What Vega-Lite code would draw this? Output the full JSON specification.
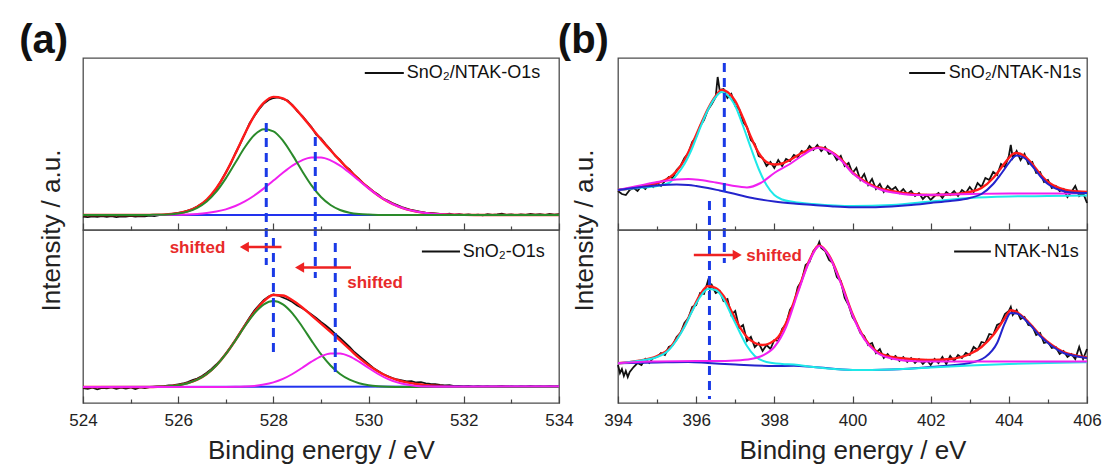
{
"$schema": "https://vega.github.io/schema/vega-lite/v6.json",
"background": "white",
"padding": {"left": 18, "top": 20, "right": 5, "bottom": 5},
"datasets": {
"at_k": [{"x":524.0,"y":13.5},{"x":524.1,"y":12.8},{"x":524.2,"y":13.6},{"x":524.3,"y":13.2},{"x":524.4,"y":14.0},{"x":524.5,"y":13.1},{"x":524.6,"y":13.8},{"x":524.7,"y":12.9},{"x":524.8,"y":13.7},{"x":524.9,"y":13.4},{"x":525.0,"y":14.2},{"x":525.1,"y":13.3},{"x":525.2,"y":13.9},{"x":525.3,"y":13.6},{"x":525.4,"y":14.4},{"x":525.5,"y":14.0},{"x":525.6,"y":14.8},{"x":525.7,"y":15.0},{"x":525.8,"y":15.6},{"x":525.9,"y":16.4},{"x":526.0,"y":17.0},{"x":526.1,"y":17.8},{"x":526.2,"y":19.4},{"x":526.3,"y":21.0},{"x":526.4,"y":23.5},{"x":526.5,"y":26.4},{"x":526.6,"y":30.0},{"x":526.7,"y":35.0},{"x":526.8,"y":41.0},{"x":526.9,"y":49.0},{"x":527.0,"y":57.5},{"x":527.1,"y":66.0},{"x":527.2,"y":76.5},{"x":527.3,"y":86.0},{"x":527.4,"y":96.0},{"x":527.5,"y":106.8},{"x":527.6,"y":114.0},{"x":527.7,"y":120.8},{"x":527.8,"y":126.5},{"x":527.9,"y":130.0},{"x":528.0,"y":132.0},{"x":528.1,"y":132.6},{"x":528.2,"y":131.0},{"x":528.3,"y":129.4},{"x":528.4,"y":125.0},{"x":528.5,"y":118.8},{"x":528.6,"y":114.5},{"x":528.7,"y":108.6},{"x":528.8,"y":103.0},{"x":528.9,"y":95.4},{"x":529.0,"y":91.5},{"x":529.1,"y":85.6},{"x":529.2,"y":80.5},{"x":529.3,"y":74.0},{"x":529.4,"y":70.0},{"x":529.5,"y":64.0},{"x":529.6,"y":60.5},{"x":529.7,"y":55.0},{"x":529.8,"y":51.0},{"x":529.9,"y":46.0},{"x":530.0,"y":42.5},{"x":530.1,"y":38.5},{"x":530.2,"y":35.5},{"x":530.3,"y":31.5},{"x":530.4,"y":29.5},{"x":530.5,"y":27.0},{"x":530.6,"y":25.0},{"x":530.7,"y":23.0},{"x":530.8,"y":21.5},{"x":530.9,"y":20.0},{"x":531.0,"y":19.0},{"x":531.1,"y":18.2},{"x":531.2,"y":17.4},{"x":531.3,"y":17.0},{"x":531.4,"y":16.6},{"x":531.5,"y":16.2},{"x":531.6,"y":15.6},{"x":531.7,"y":16.4},{"x":531.8,"y":15.2},{"x":531.9,"y":15.8},{"x":532.0,"y":15.0},{"x":532.1,"y":15.6},{"x":532.2,"y":14.8},{"x":532.3,"y":15.4},{"x":532.4,"y":14.6},{"x":532.5,"y":15.8},{"x":532.6,"y":15.0},{"x":532.7,"y":15.5},{"x":532.8,"y":16.3},{"x":532.9,"y":15.2},{"x":533.0,"y":15.7},{"x":533.1,"y":14.9},{"x":533.2,"y":15.6},{"x":533.3,"y":15.1},{"x":533.4,"y":16.1},{"x":533.5,"y":15.3},{"x":533.6,"y":15.8},{"x":533.7,"y":15.0},{"x":533.8,"y":16.2},{"x":533.9,"y":15.4},{"x":534.0,"y":15.8}],
"at_r": [{"x":524,"y":15},{"x":525.2,"y":15},{"x":525.4,"y":15.1},{"x":525.6,"y":15.3},{"x":525.8,"y":15.7},{"x":526.0,"y":16.8},{"x":526.2,"y":19.0},{"x":526.4,"y":23.2},{"x":526.6,"y":30.4},{"x":526.8,"y":41.7},{"x":527.0,"y":57.2},{"x":527.2,"y":76.2},{"x":527.4,"y":96.3},{"x":527.6,"y":114.4},{"x":527.8,"y":127.3},{"x":528.0,"y":133.1},{"x":528.2,"y":131.7},{"x":528.4,"y":124.5},{"x":528.6,"y":113.9},{"x":528.8,"y":102.2},{"x":529.0,"y":90.6},{"x":529.2,"y":79.7},{"x":529.4,"y":69.4},{"x":529.6,"y":59.6},{"x":529.8,"y":50.4},{"x":530.0,"y":42.0},{"x":530.2,"y":34.6},{"x":530.4,"y":28.6},{"x":530.6,"y":24.0},{"x":530.8,"y":20.6},{"x":531.0,"y":18.4},{"x":531.2,"y":16.9},{"x":531.4,"y":16.0},{"x":531.6,"y":15.5},{"x":531.8,"y":15.3},{"x":532.0,"y":15.1},{"x":532.4,"y":15},{"x":534,"y":15}],
"at_g": [{"x":524,"y":15},{"x":525.2,"y":15},{"x":525.4,"y":15.1},{"x":525.6,"y":15.2},{"x":525.8,"y":15.6},{"x":526.0,"y":16.5},{"x":526.2,"y":18.4},{"x":526.4,"y":22.2},{"x":526.6,"y":28.5},{"x":526.8,"y":38.3},{"x":527.0,"y":51.6},{"x":527.2,"y":67.2},{"x":527.4,"y":82.7},{"x":527.6,"y":94.9},{"x":527.8,"y":100.7},{"x":528.0,"y":98.7},{"x":528.2,"y":89.4},{"x":528.4,"y":75.1},{"x":528.6,"y":59.2},{"x":528.8,"y":44.6},{"x":529.0,"y":33.0},{"x":529.2,"y":25.0},{"x":529.4,"y":20.0},{"x":529.6,"y":17.3},{"x":529.8,"y":16.0},{"x":530.0,"y":15.4},{"x":530.2,"y":15.1},{"x":530.4,"y":15},{"x":534,"y":15}],
"at_m": [{"x":524,"y":15},{"x":525.6,"y":15},{"x":525.8,"y":15.1},{"x":526.0,"y":15.3},{"x":526.2,"y":15.5},{"x":526.4,"y":16.0},{"x":526.6,"y":16.9},{"x":526.8,"y":18.4},{"x":527.0,"y":20.6},{"x":527.2,"y":24.0},{"x":527.4,"y":28.6},{"x":527.6,"y":34.5},{"x":527.8,"y":41.6},{"x":528.0,"y":49.4},{"x":528.2,"y":57.3},{"x":528.4,"y":64.4},{"x":528.6,"y":69.7},{"x":528.8,"y":72.6},{"x":529.0,"y":72.6},{"x":529.2,"y":69.7},{"x":529.4,"y":64.4},{"x":529.6,"y":57.3},{"x":529.8,"y":49.4},{"x":530.0,"y":41.6},{"x":530.2,"y":34.5},{"x":530.4,"y":28.6},{"x":530.6,"y":24.0},{"x":530.8,"y":20.6},{"x":531.0,"y":18.4},{"x":531.2,"y":16.9},{"x":531.4,"y":16.0},{"x":531.6,"y":15.5},{"x":531.8,"y":15.3},{"x":532.0,"y":15.1},{"x":532.4,"y":15},{"x":534,"y":15}],
"ab_k": [{"x":524.0,"y":15.0},{"x":524.1,"y":14.2},{"x":524.2,"y":15.4},{"x":524.3,"y":13.6},{"x":524.4,"y":15.1},{"x":524.5,"y":14.6},{"x":524.6,"y":15.6},{"x":524.7,"y":14.3},{"x":524.8,"y":15.3},{"x":524.9,"y":14.5},{"x":525.0,"y":15.5},{"x":525.1,"y":13.9},{"x":525.2,"y":15.6},{"x":525.3,"y":15.0},{"x":525.4,"y":16.0},{"x":525.5,"y":16.3},{"x":525.6,"y":16.6},{"x":525.7,"y":16.8},{"x":525.8,"y":17.5},{"x":525.9,"y":17.8},{"x":526.0,"y":18.6},{"x":526.1,"y":19.5},{"x":526.2,"y":21.0},{"x":526.3,"y":22.8},{"x":526.4,"y":24.5},{"x":526.5,"y":27.0},{"x":526.6,"y":30.2},{"x":526.7,"y":34.0},{"x":526.8,"y":38.5},{"x":526.9,"y":43.5},{"x":527.0,"y":49.5},{"x":527.1,"y":56.0},{"x":527.2,"y":63.0},{"x":527.3,"y":70.5},{"x":527.4,"y":78.0},{"x":527.5,"y":85.5},{"x":527.6,"y":92.5},{"x":527.7,"y":98.0},{"x":527.8,"y":103.0},{"x":527.9,"y":106.5},{"x":528.0,"y":108.5},{"x":528.1,"y":107.5},{"x":528.2,"y":105.5},{"x":528.3,"y":103.5},{"x":528.4,"y":101.0},{"x":528.5,"y":97.5},{"x":528.6,"y":95.0},{"x":528.7,"y":92.0},{"x":528.8,"y":88.5},{"x":528.9,"y":85.0},{"x":529.0,"y":81.0},{"x":529.1,"y":77.5},{"x":529.2,"y":73.5},{"x":529.3,"y":69.0},{"x":529.4,"y":65.0},{"x":529.5,"y":60.5},{"x":529.6,"y":56.0},{"x":529.7,"y":51.0},{"x":529.8,"y":47.0},{"x":529.9,"y":43.0},{"x":530.0,"y":39.0},{"x":530.1,"y":35.0},{"x":530.2,"y":32.0},{"x":530.3,"y":29.0},{"x":530.4,"y":27.0},{"x":530.5,"y":25.0},{"x":530.6,"y":23.5},{"x":530.7,"y":22.5},{"x":530.8,"y":21.5},{"x":530.9,"y":21.8},{"x":531.0,"y":20.5},{"x":531.1,"y":20.8},{"x":531.2,"y":19.6},{"x":531.3,"y":19.0},{"x":531.4,"y":18.8},{"x":531.5,"y":18.0},{"x":531.6,"y":17.5},{"x":531.7,"y":17.9},{"x":531.8,"y":16.8},{"x":531.9,"y":17.2},{"x":532.0,"y":16.5},{"x":532.1,"y":17.0},{"x":532.2,"y":16.2},{"x":532.3,"y":16.9},{"x":532.4,"y":16.0},{"x":532.5,"y":16.6},{"x":532.6,"y":15.8},{"x":532.7,"y":16.4},{"x":532.8,"y":17.2},{"x":532.9,"y":16.0},{"x":533.0,"y":16.5},{"x":533.1,"y":15.9},{"x":533.2,"y":16.6},{"x":533.3,"y":16.1},{"x":533.4,"y":17.0},{"x":533.5,"y":16.2},{"x":533.6,"y":16.6},{"x":533.7,"y":15.9},{"x":533.8,"y":16.8},{"x":533.9,"y":16.0},{"x":534.0,"y":16.4}],
"ab_r": [{"x":524,"y":16},{"x":525.4,"y":16},{"x":525.6,"y":16.3},{"x":525.8,"y":16.8},{"x":526.0,"y":17.8},{"x":526.2,"y":19.8},{"x":526.4,"y":23.3},{"x":526.6,"y":29.0},{"x":526.8,"y":37.5},{"x":527.0,"y":48.9},{"x":527.2,"y":62.6},{"x":527.4,"y":77.3},{"x":527.6,"y":90.8},{"x":527.8,"y":101.8},{"x":528.0,"y":108.0},{"x":528.2,"y":107.5},{"x":528.4,"y":102.7},{"x":528.6,"y":95.8},{"x":528.8,"y":87.7},{"x":529.0,"y":79.4},{"x":529.2,"y":71.1},{"x":529.4,"y":62.6},{"x":529.6,"y":53.9},{"x":529.8,"y":45.1},{"x":530.0,"y":37.8},{"x":530.2,"y":31.5},{"x":530.4,"y":26.5},{"x":530.6,"y":23.0},{"x":530.8,"y":20.6},{"x":531.0,"y":19.0},{"x":531.2,"y":17.9},{"x":531.4,"y":17.2},{"x":531.6,"y":16.7},{"x":531.8,"y":16.4},{"x":532.2,"y":16.3},{"x":534,"y":16.6}],
"ab_g": [{"x":524,"y":16},{"x":525.4,"y":16},{"x":525.6,"y":16.3},{"x":525.8,"y":16.8},{"x":526.0,"y":17.8},{"x":526.2,"y":19.8},{"x":526.4,"y":23.3},{"x":526.6,"y":29.0},{"x":526.8,"y":37.5},{"x":527.0,"y":48.8},{"x":527.2,"y":62.4},{"x":527.4,"y":76.8},{"x":527.6,"y":89.7},{"x":527.8,"y":98.7},{"x":528.0,"y":102},{"x":528.2,"y":98.7},{"x":528.4,"y":89.7},{"x":528.6,"y":76.8},{"x":528.8,"y":62.4},{"x":529.0,"y":48.8},{"x":529.2,"y":37.5},{"x":529.4,"y":29.0},{"x":529.6,"y":23.3},{"x":529.8,"y":19.8},{"x":530.0,"y":17.8},{"x":530.2,"y":16.8},{"x":530.4,"y":16.3},{"x":530.6,"y":16.1},{"x":530.8,"y":16},{"x":534,"y":16}],
"ab_m": [{"x":524,"y":16},{"x":527.0,"y":16.1},{"x":527.2,"y":16.2},{"x":527.4,"y":16.5},{"x":527.6,"y":17.1},{"x":527.8,"y":18.4},{"x":528.0,"y":20.6},{"x":528.2,"y":24.1},{"x":528.4,"y":29.0},{"x":528.6,"y":35.0},{"x":528.8,"y":41.3},{"x":529.0,"y":46.6},{"x":529.2,"y":49.6},{"x":529.4,"y":49.6},{"x":529.6,"y":46.6},{"x":529.8,"y":41.3},{"x":530.0,"y":35.0},{"x":530.2,"y":29.0},{"x":530.4,"y":24.1},{"x":530.6,"y":20.6},{"x":530.8,"y":18.4},{"x":531.0,"y":17.1},{"x":531.2,"y":16.5},{"x":531.6,"y":16.3},{"x":534,"y":16.6}],
"bt_k": [{"x":394.0,"y":39},{"x":394.1,"y":36},{"x":394.2,"y":35},{"x":394.3,"y":40},{"x":394.4,"y":42},{"x":394.5,"y":39},{"x":394.6,"y":44},{"x":394.7,"y":41},{"x":394.8,"y":46},{"x":394.9,"y":43},{"x":395.0,"y":47},{"x":395.1,"y":44},{"x":395.2,"y":49},{"x":395.3,"y":53},{"x":395.4,"y":52},{"x":395.5,"y":60},{"x":395.6,"y":64},{"x":395.7,"y":72},{"x":395.8,"y":77},{"x":395.9,"y":88},{"x":396.0,"y":93},{"x":396.1,"y":104},{"x":396.2,"y":110},{"x":396.3,"y":120},{"x":396.4,"y":126},{"x":396.5,"y":133},{"x":396.55,"y":153},{"x":396.6,"y":140},{"x":396.7,"y":141},{"x":396.8,"y":132},{"x":396.9,"y":136},{"x":397.0,"y":124},{"x":397.1,"y":121},{"x":397.2,"y":108},{"x":397.3,"y":103},{"x":397.4,"y":90},{"x":397.5,"y":86},{"x":397.6,"y":74},{"x":397.7,"y":72},{"x":397.8,"y":64},{"x":397.9,"y":68},{"x":398.0,"y":62},{"x":398.1,"y":70},{"x":398.2,"y":64},{"x":398.3,"y":71},{"x":398.4,"y":69},{"x":398.5,"y":75},{"x":398.6,"y":73},{"x":398.7,"y":79},{"x":398.8,"y":77},{"x":398.9,"y":84},{"x":399.0,"y":80},{"x":399.1,"y":85},{"x":399.2,"y":79},{"x":399.3,"y":83},{"x":399.4,"y":76},{"x":399.5,"y":77},{"x":399.6,"y":70},{"x":399.7,"y":74},{"x":399.8,"y":64},{"x":399.9,"y":67},{"x":400.0,"y":57},{"x":400.1,"y":62},{"x":400.2,"y":50},{"x":400.3,"y":56},{"x":400.4,"y":45},{"x":400.5,"y":51},{"x":400.6,"y":41},{"x":400.7,"y":46},{"x":400.8,"y":38},{"x":400.9,"y":44},{"x":401.0,"y":40},{"x":401.1,"y":43},{"x":401.2,"y":37},{"x":401.3,"y":41},{"x":401.4,"y":36},{"x":401.5,"y":39},{"x":401.6,"y":34},{"x":401.7,"y":37},{"x":401.8,"y":31},{"x":401.9,"y":35},{"x":402.0,"y":30},{"x":402.1,"y":34},{"x":402.2,"y":37},{"x":402.3,"y":32},{"x":402.4,"y":38},{"x":402.5,"y":35},{"x":402.6,"y":39},{"x":402.7,"y":34},{"x":402.8,"y":40},{"x":402.9,"y":37},{"x":403.0,"y":43},{"x":403.1,"y":38},{"x":403.2,"y":47},{"x":403.3,"y":43},{"x":403.4,"y":52},{"x":403.5,"y":50},{"x":403.6,"y":58},{"x":403.7,"y":55},{"x":403.8,"y":66},{"x":403.9,"y":63},{"x":404.0,"y":74},{"x":404.05,"y":85},{"x":404.1,"y":72},{"x":404.2,"y":79},{"x":404.3,"y":70},{"x":404.4,"y":76},{"x":404.5,"y":66},{"x":404.6,"y":68},{"x":404.7,"y":57},{"x":404.8,"y":58},{"x":404.9,"y":48},{"x":405.0,"y":50},{"x":405.1,"y":42},{"x":405.2,"y":44},{"x":405.3,"y":39},{"x":405.4,"y":41},{"x":405.5,"y":33},{"x":405.6,"y":38},{"x":405.7,"y":44},{"x":405.8,"y":34},{"x":405.9,"y":37},{"x":406.0,"y":27}],
"bt_r": [{"x":394,"y":40},{"x":394.3,"y":41.5},{"x":394.6,"y":43.5},{"x":395,"y":47},{"x":395.3,"y":52},{"x":395.5,"y":59},{"x":395.7,"y":70},{"x":395.9,"y":86},{"x":396.1,"y":104},{"x":396.3,"y":121},{"x":396.5,"y":134},{"x":396.65,"y":140},{"x":396.8,"y":138},{"x":397,"y":129},{"x":397.2,"y":112},{"x":397.4,"y":93},{"x":397.6,"y":77},{"x":397.8,"y":68},{"x":398,"y":65.5},{"x":398.2,"y":66.5},{"x":398.4,"y":70},{"x":398.7,"y":77},{"x":399,"y":81.5},{"x":399.15,"y":82.5},{"x":399.4,"y":79.5},{"x":399.7,"y":71},{"x":400,"y":57.5},{"x":400.3,"y":49},{"x":400.6,"y":43},{"x":401,"y":39},{"x":401.5,"y":36},{"x":402,"y":35},{"x":402.5,"y":35.5},{"x":403,"y":38},{"x":403.3,"y":42},{"x":403.6,"y":52},{"x":403.8,"y":62},{"x":404,"y":72},{"x":404.1,"y":76},{"x":404.2,"y":77},{"x":404.4,"y":74},{"x":404.6,"y":66},{"x":404.8,"y":56},{"x":405,"y":48},{"x":405.3,"y":42},{"x":405.6,"y":39},{"x":406,"y":38}],
"bt_c": [{"x":394,"y":40},{"x":394.5,"y":42},{"x":395,"y":44},{"x":395.3,"y":47},{"x":395.5,"y":55},{"x":395.7,"y":66},{"x":395.9,"y":82},{"x":396.1,"y":102},{"x":396.3,"y":120},{"x":396.5,"y":133},{"x":396.65,"y":138},{"x":396.8,"y":135},{"x":397,"y":124},{"x":397.2,"y":104},{"x":397.4,"y":82},{"x":397.6,"y":61},{"x":397.8,"y":45},{"x":398,"y":35},{"x":398.2,"y":30.5},{"x":398.5,"y":28},{"x":399,"y":26},{"x":400,"y":24},{"x":401,"y":25},{"x":402,"y":28.5},{"x":403,"y":32},{"x":404,"y":33.5},{"x":405,"y":34},{"x":406,"y":34.5}],
"bt_m": [{"x":394,"y":40},{"x":394.5,"y":44},{"x":395,"y":48},{"x":395.5,"y":50.5},{"x":395.8,"y":51},{"x":396.1,"y":50},{"x":396.5,"y":47.5},{"x":396.9,"y":44.5},{"x":397.3,"y":42.6},{"x":397.65,"y":47},{"x":398,"y":57},{"x":398.4,"y":66},{"x":398.7,"y":74},{"x":399.1,"y":82},{"x":399.4,"y":79},{"x":399.7,"y":70},{"x":400,"y":57},{"x":400.3,"y":48},{"x":400.75,"y":40},{"x":401.2,"y":36.5},{"x":401.66,"y":35},{"x":402.5,"y":35.5},{"x":403,"y":36},{"x":404,"y":36.5},{"x":405,"y":36.5},{"x":406,"y":37}],
"bt_b": [{"x":394,"y":40},{"x":394.5,"y":42.5},{"x":395,"y":44.5},{"x":395.5,"y":45.5},{"x":395.8,"y":45},{"x":396,"y":44},{"x":396.3,"y":42},{"x":396.6,"y":39.5},{"x":397,"y":36},{"x":397.5,"y":31.5},{"x":398,"y":28.5},{"x":398.5,"y":26.5},{"x":399,"y":25},{"x":399.5,"y":23.5},{"x":400,"y":22.7},{"x":400.5,"y":22.8},{"x":401,"y":23.6},{"x":401.5,"y":25},{"x":402,"y":27},{"x":402.5,"y":29},{"x":403,"y":32},{"x":403.3,"y":36},{"x":403.6,"y":46},{"x":403.8,"y":56},{"x":404,"y":67},{"x":404.1,"y":72},{"x":404.2,"y":74.5},{"x":404.4,"y":72},{"x":404.6,"y":64},{"x":404.8,"y":54},{"x":405,"y":46},{"x":405.3,"y":40},{"x":405.6,"y":37.5},{"x":406,"y":37}],
"bb_k": [{"x":394.0,"y":38},{"x":394.05,"y":30},{"x":394.1,"y":34},{"x":394.15,"y":27},{"x":394.2,"y":32},{"x":394.25,"y":26},{"x":394.3,"y":31},{"x":394.4,"y":36},{"x":394.5,"y":40},{"x":394.6,"y":38},{"x":394.7,"y":44},{"x":394.8,"y":40},{"x":394.9,"y":45},{"x":395.0,"y":46},{"x":395.1,"y":50},{"x":395.2,"y":48},{"x":395.3,"y":56},{"x":395.4,"y":58},{"x":395.5,"y":66},{"x":395.6,"y":70},{"x":395.7,"y":80},{"x":395.8,"y":85},{"x":395.9,"y":96},{"x":396.0,"y":98},{"x":396.1,"y":110},{"x":396.2,"y":109},{"x":396.3,"y":122},{"x":396.35,"y":113},{"x":396.4,"y":118},{"x":396.5,"y":110},{"x":396.6,"y":112},{"x":396.7,"y":102},{"x":396.8,"y":104},{"x":396.9,"y":88},{"x":397.0,"y":92},{"x":397.1,"y":75},{"x":397.2,"y":78},{"x":397.3,"y":62},{"x":397.4,"y":66},{"x":397.5,"y":56},{"x":397.6,"y":60},{"x":397.7,"y":52},{"x":397.8,"y":58},{"x":397.9,"y":54},{"x":398.0,"y":63},{"x":398.1,"y":62},{"x":398.2,"y":74},{"x":398.3,"y":79},{"x":398.4,"y":93},{"x":398.5,"y":99},{"x":398.6,"y":116},{"x":398.7,"y":122},{"x":398.8,"y":138},{"x":398.9,"y":141},{"x":399.0,"y":152},{"x":399.1,"y":156},{"x":399.15,"y":161},{"x":399.2,"y":155},{"x":399.3,"y":152},{"x":399.4,"y":143},{"x":399.5,"y":140},{"x":399.6,"y":126},{"x":399.7,"y":122},{"x":399.8,"y":105},{"x":399.9,"y":98},{"x":400.0,"y":86},{"x":400.1,"y":80},{"x":400.2,"y":70},{"x":400.3,"y":67},{"x":400.4,"y":58},{"x":400.5,"y":60},{"x":400.6,"y":50},{"x":400.7,"y":54},{"x":400.8,"y":45},{"x":400.9,"y":49},{"x":401.0,"y":44},{"x":401.1,"y":47},{"x":401.2,"y":42},{"x":401.3,"y":46},{"x":401.4,"y":41},{"x":401.5,"y":45},{"x":401.6,"y":40},{"x":401.7,"y":44},{"x":401.8,"y":39},{"x":401.9,"y":43},{"x":402.0,"y":38},{"x":402.1,"y":44},{"x":402.2,"y":40},{"x":402.3,"y":46},{"x":402.4,"y":39},{"x":402.5,"y":47},{"x":402.6,"y":42},{"x":402.7,"y":48},{"x":402.8,"y":45},{"x":402.9,"y":50},{"x":403.0,"y":48},{"x":403.1,"y":56},{"x":403.2,"y":53},{"x":403.3,"y":61},{"x":403.4,"y":60},{"x":403.5,"y":69},{"x":403.6,"y":68},{"x":403.7,"y":78},{"x":403.8,"y":80},{"x":403.9,"y":89},{"x":404.0,"y":92},{"x":404.05,"y":96},{"x":404.1,"y":88},{"x":404.2,"y":93},{"x":404.3,"y":84},{"x":404.4,"y":86},{"x":404.5,"y":78},{"x":404.6,"y":77},{"x":404.7,"y":68},{"x":404.8,"y":70},{"x":404.9,"y":60},{"x":405.0,"y":61},{"x":405.1,"y":55},{"x":405.2,"y":56},{"x":405.3,"y":49},{"x":405.4,"y":52},{"x":405.5,"y":46},{"x":405.6,"y":49},{"x":405.7,"y":44},{"x":405.8,"y":56},{"x":405.9,"y":44},{"x":406.0,"y":54}],
"bb_r": [{"x":394,"y":39.7},{"x":394.5,"y":42},{"x":395,"y":47},{"x":395.3,"y":54},{"x":395.5,"y":64},{"x":395.7,"y":77},{"x":395.9,"y":93},{"x":396.1,"y":108},{"x":396.3,"y":117},{"x":396.5,"y":115},{"x":396.7,"y":107},{"x":396.9,"y":92},{"x":397.1,"y":77},{"x":397.3,"y":66},{"x":397.5,"y":60},{"x":397.7,"y":58},{"x":397.9,"y":60},{"x":398.1,"y":66},{"x":398.3,"y":80},{"x":398.6,"y":112},{"x":398.9,"y":143},{"x":399.15,"y":157.5},{"x":399.4,"y":147.5},{"x":399.7,"y":121},{"x":400,"y":89},{"x":400.3,"y":65},{"x":400.6,"y":52},{"x":401,"y":46},{"x":401.5,"y":44},{"x":402,"y":43},{"x":402.5,"y":44},{"x":403,"y":49},{"x":403.3,"y":56},{"x":403.6,"y":68},{"x":403.9,"y":85},{"x":404.05,"y":92.7},{"x":404.2,"y":91},{"x":404.5,"y":81},{"x":404.8,"y":68},{"x":405.1,"y":58},{"x":405.4,"y":51},{"x":405.7,"y":47.5},{"x":406,"y":45.5}],
"bb_c": [{"x":394,"y":39.7},{"x":394.5,"y":42},{"x":395,"y":46},{"x":395.3,"y":53},{"x":395.5,"y":63},{"x":395.7,"y":76},{"x":395.9,"y":92},{"x":396.1,"y":106},{"x":396.3,"y":114},{"x":396.5,"y":113},{"x":396.7,"y":104},{"x":396.9,"y":88},{"x":397.1,"y":72},{"x":397.3,"y":57},{"x":397.5,"y":47},{"x":397.8,"y":41},{"x":398.2,"y":39},{"x":398.5,"y":38.5},{"x":399,"y":36},{"x":400,"y":33},{"x":401,"y":33.5},{"x":402,"y":35.5},{"x":403,"y":37.5},{"x":404,"y":39},{"x":405,"y":40},{"x":406,"y":40.7}],
"bb_m": [{"x":394,"y":39.7},{"x":394.5,"y":41},{"x":395,"y":41.5},{"x":396,"y":42},{"x":396.5,"y":42},{"x":397,"y":42.5},{"x":397.4,"y":44},{"x":397.7,"y":47.5},{"x":398,"y":56},{"x":398.3,"y":76},{"x":398.6,"y":110},{"x":398.9,"y":142},{"x":399.15,"y":157},{"x":399.4,"y":147},{"x":399.7,"y":120},{"x":400,"y":88},{"x":400.3,"y":64},{"x":400.6,"y":51},{"x":401,"y":44.5},{"x":401.5,"y":42},{"x":402,"y":41.5},{"x":406,"y":41.5}],
"bb_b": [{"x":394,"y":39.7},{"x":395,"y":40.5},{"x":395.8,"y":41},{"x":396.3,"y":40},{"x":397,"y":38.5},{"x":398,"y":37},{"x":398.5,"y":37.2},{"x":399,"y":36},{"x":400,"y":33},{"x":401,"y":33.5},{"x":402,"y":36},{"x":403,"y":40},{"x":403.4,"y":46},{"x":403.7,"y":60},{"x":403.9,"y":80},{"x":404.05,"y":90},{"x":404.2,"y":89.5},{"x":404.5,"y":80},{"x":404.8,"y":67},{"x":405.1,"y":57},{"x":405.4,"y":50},{"x":405.7,"y":47},{"x":406,"y":45}]
},
"columns": 2,
"spacing": {"row": 0, "column": 59},
"bounds": "flush",
"concat": [
{
"width": 476, "height": 172,
"layer": [
{
"encoding": {
"x": {"field": "x", "type": "quantitative", "scale": {"domain": [524, 534], "nice": false, "zero": false},
 "axis": {"values": [524, 526, 528, 530, 532, 534], "labels": false, "title": null, "domain": false, "grid": false, "tickSize": -7, "tickColor": "#444", "tickWidth": 1.2}},
"y": {"field": "y", "type": "quantitative", "scale": {"domain": [0, 172], "nice": false, "zero": false}, "axis": null}
},
"layer": [
{"data": {"name": "at_k"}, "mark": {"type": "line", "color": "#111111", "strokeWidth": 1.8}},
{"data": {"name": "at_r"}, "mark": {"type": "line", "color": "#ff1a1a", "strokeWidth": 2.4, "interpolate": "monotone"}},
{"data": {"values": [{"x": 524, "y": 15}, {"x": 534, "y": 15}]}, "mark": {"type": "line", "color": "#2233ee", "strokeWidth": 2}},
{"data": {"name": "at_m"}, "mark": {"type": "line", "color": "#f020f0", "strokeWidth": 2, "interpolate": "monotone"}},
{"data": {"name": "at_g"}, "mark": {"type": "line", "color": "#2a8a2a", "strokeWidth": 2, "interpolate": "monotone"}},
{"data": {"values": [{"x": 527.85, "y": 107, "y2": -35}, {"x": 528.88, "y": 93, "y2": -48}]}, "mark": {"type": "rule", "color": "#1a3ae6", "strokeWidth": 3, "strokeDash": [9, 6]}, "encoding": {"y2": {"field": "y2"}}},
{"data": {"values": [{"x": 529.92, "x2": 530.74, "y": 157}]}, "mark": {"type": "rule", "color": "#111111", "strokeWidth": 2.2}, "encoding": {"x2": {"field": "x2"}}},
{"data": {"values": [{"x": 530.8, "y": 157, "t": "SnO₂/NTAK-O1s"}]}, "mark": {"type": "text", "align": "left", "baseline": "middle", "fontSize": 18, "color": "#111111"}, "encoding": {"text": {"field": "t", "type": "nominal"}}},
{"data": {"values": [{"x": 522.66, "y": 189, "t": "(a)"}]}, "mark": {"type": "text", "align": "left", "baseline": "middle", "fontSize": 40, "fontWeight": "bold", "color": "#111111"}, "encoding": {"text": {"field": "t", "type": "nominal"}}}
]
},
{"data": {"values": [{"x": 524}, {"x": 534}]}, "mark": {"type": "point", "opacity": 0},
 "encoding": {"x": {"field": "x", "type": "quantitative", "scale": {"domain": [524, 534], "nice": false, "zero": false},
 "axis": {"orient": "bottom", "values": [525, 527, 529, 531, 533], "labels": false, "title": null, "domain": false, "grid": false, "tickSize": -4, "tickColor": "#444", "tickWidth": 1.2}}}}
],
"resolve": {"scale": {"x": "independent"}, "axis": {"x": "independent"}}
},
{
"width": 469, "height": 172,
"layer": [
{
"encoding": {
"x": {"field": "x", "type": "quantitative", "scale": {"domain": [394, 406], "nice": false, "zero": false},
 "axis": {"values": [394, 396, 398, 400, 402, 404, 406], "labels": false, "title": null, "domain": false, "grid": false, "tickSize": -7, "tickColor": "#444", "tickWidth": 1.2}},
"y": {"field": "y", "type": "quantitative", "scale": {"domain": [0, 172], "nice": false, "zero": false}, "axis": null}
},
"layer": [
{"data": {"name": "bt_k"}, "mark": {"type": "line", "color": "#111111", "strokeWidth": 1.8}},
{"data": {"name": "bt_r"}, "mark": {"type": "line", "color": "#ff1a1a", "strokeWidth": 2.4, "interpolate": "monotone"}},
{"data": {"name": "bt_c"}, "mark": {"type": "line", "color": "#1ee8e8", "strokeWidth": 2, "interpolate": "monotone"}},
{"data": {"name": "bt_m"}, "mark": {"type": "line", "color": "#f020f0", "strokeWidth": 2, "interpolate": "monotone"}},
{"data": {"name": "bt_b"}, "mark": {"type": "line", "color": "#2424cc", "strokeWidth": 2, "interpolate": "monotone"}},
{"data": {"values": [{"x": 396.72, "y": 167, "y2": -33}]}, "mark": {"type": "rule", "color": "#1a3ae6", "strokeWidth": 3, "strokeDash": [9, 6]}, "encoding": {"y2": {"field": "y2"}}},
{"data": {"values": [{"x": 401.45, "x2": 402.37, "y": 157}]}, "mark": {"type": "rule", "color": "#111111", "strokeWidth": 2.2}, "encoding": {"x2": {"field": "x2"}}},
{"data": {"values": [{"x": 402.46, "y": 157, "t": "SnO₂/NTAK-N1s"}]}, "mark": {"type": "text", "align": "left", "baseline": "middle", "fontSize": 18, "color": "#111111"}, "encoding": {"text": {"field": "t", "type": "nominal"}}},
{"data": {"values": [{"x": 392.46, "y": 189, "t": "(b)"}]}, "mark": {"type": "text", "align": "left", "baseline": "middle", "fontSize": 40, "fontWeight": "bold", "color": "#111111"}, "encoding": {"text": {"field": "t", "type": "nominal"}}}
]
},
{"data": {"values": [{"x": 394}, {"x": 406}]}, "mark": {"type": "point", "opacity": 0},
 "encoding": {"x": {"field": "x", "type": "quantitative", "scale": {"domain": [394, 406], "nice": false, "zero": false},
 "axis": {"orient": "bottom", "values": [395, 397, 399, 401, 403, 405], "labels": false, "title": null, "domain": false, "grid": false, "tickSize": -4, "tickColor": "#444", "tickWidth": 1.2}}}}
],
"resolve": {"scale": {"x": "independent"}, "axis": {"x": "independent"}}
},
{
"width": 476, "height": 173,
"layer": [
{
"encoding": {
"x": {"field": "x", "type": "quantitative", "scale": {"domain": [524, 534], "nice": false, "zero": false},
 "axis": {"values": [524, 526, 528, 530, 532, 534], "labels": true, "labelFlush": false, "labelOverlap": false, "labelFontSize": 17, "labelColor": "#222", "labelPadding": 16, "title": "Binding energy / eV", "titleFontSize": 26, "titleFontWeight": "normal", "titleColor": "#222", "titlePadding": 9, "domain": false, "grid": false, "tickSize": -7, "tickColor": "#444", "tickWidth": 1.2}},
"y": {"field": "y", "type": "quantitative", "scale": {"domain": [0, 173], "nice": false, "zero": false},
 "axis": {"title": "Intensity / a.u.", "labels": false, "ticks": false, "domain": false, "grid": false, "titleX": -32, "titleY": 0, "titleAngle": -90, "titleAlign": "center", "titleBaseline": "middle", "titleFontSize": 26, "titleFontWeight": "normal", "titleColor": "#222"}}
},
"layer": [
{"data": {"name": "ab_k"}, "mark": {"type": "line", "color": "#111111", "strokeWidth": 1.8}},
{"data": {"name": "ab_r"}, "mark": {"type": "line", "color": "#ff1a1a", "strokeWidth": 2.4, "interpolate": "monotone"}},
{"data": {"values": [{"x": 524, "y": 16}, {"x": 534, "y": 16.6}]}, "mark": {"type": "line", "color": "#2233ee", "strokeWidth": 2}},
{"data": {"name": "ab_g"}, "mark": {"type": "line", "color": "#2a8a2a", "strokeWidth": 2, "interpolate": "monotone"}},
{"data": {"name": "ab_m"}, "mark": {"type": "line", "color": "#f020f0", "strokeWidth": 2, "interpolate": "monotone"}},
{"data": {"values": [{"x": 528.0, "y": 165, "y2": 50}, {"x": 529.3, "y": 160, "y2": 25}]}, "mark": {"type": "rule", "color": "#1a3ae6", "strokeWidth": 3, "strokeDash": [9, 6]}, "encoding": {"y2": {"field": "y2"}}},
{"data": {"values": [{"x": 527.39, "x2": 528.17, "y": 156}, {"x": 528.55, "x2": 529.63, "y": 135.6}]}, "mark": {"type": "rule", "color": "#ee2222", "strokeWidth": 2.5}, "encoding": {"x2": {"field": "x2"}}},
{"data": {"values": [{"x": 527.39, "y": 156}, {"x": 528.55, "y": 135.6}]}, "mark": {"type": "point", "shape": "triangle-left", "filled": true, "size": 110, "color": "#ee2222", "opacity": 1}},
{"data": {"values": [{"x": 525.82, "y": 155, "t": "shifted"}, {"x": 529.55, "y": 120, "t": "shifted"}]}, "mark": {"type": "text", "align": "left", "baseline": "middle", "fontSize": 17, "fontWeight": "bold", "color": "#e82a2a"}, "encoding": {"text": {"field": "t", "type": "nominal"}}},
{"data": {"values": [{"x": 531.12, "x2": 531.92, "y": 151.5}]}, "mark": {"type": "rule", "color": "#111111", "strokeWidth": 2.2}, "encoding": {"x2": {"field": "x2"}}},
{"data": {"values": [{"x": 531.98, "y": 151.5, "t": "SnO₂-O1s"}]}, "mark": {"type": "text", "align": "left", "baseline": "middle", "fontSize": 18, "color": "#111111"}, "encoding": {"text": {"field": "t", "type": "nominal"}}}
]
},
{"data": {"values": [{"x": 524}, {"x": 534}]}, "mark": {"type": "point", "opacity": 0},
 "encoding": {"x": {"field": "x", "type": "quantitative", "scale": {"domain": [524, 534], "nice": false, "zero": false},
 "axis": {"orient": "bottom", "values": [525, 527, 529, 531, 533], "labels": false, "title": null, "domain": false, "grid": false, "tickSize": -4, "tickColor": "#444", "tickWidth": 1.2}}}}
],
"resolve": {"scale": {"x": "independent"}, "axis": {"x": "independent"}}
},
{
"width": 469, "height": 173,
"layer": [
{
"encoding": {
"x": {"field": "x", "type": "quantitative", "scale": {"domain": [394, 406], "nice": false, "zero": false},
 "axis": {"values": [394, 396, 398, 400, 402, 404, 406], "labels": true, "labelFlush": false, "labelOverlap": false, "labelFontSize": 17, "labelColor": "#222", "labelPadding": 16, "title": "Binding energy / eV", "titleFontSize": 26, "titleFontWeight": "normal", "titleColor": "#222", "titlePadding": 9, "domain": false, "grid": false, "tickSize": -7, "tickColor": "#444", "tickWidth": 1.2}},
"y": {"field": "y", "type": "quantitative", "scale": {"domain": [0, 173], "nice": false, "zero": false},
 "axis": {"title": "Intensity / a.u.", "labels": false, "ticks": false, "domain": false, "grid": false, "titleX": -34, "titleY": 0, "titleAngle": -90, "titleAlign": "center", "titleBaseline": "middle", "titleFontSize": 26, "titleFontWeight": "normal", "titleColor": "#222"}}
},
"layer": [
{"data": {"name": "bb_k"}, "mark": {"type": "line", "color": "#111111", "strokeWidth": 1.8}},
{"data": {"name": "bb_r"}, "mark": {"type": "line", "color": "#ff1a1a", "strokeWidth": 2.4, "interpolate": "monotone"}},
{"data": {"name": "bb_b"}, "mark": {"type": "line", "color": "#2424cc", "strokeWidth": 2, "interpolate": "monotone"}},
{"data": {"name": "bb_c"}, "mark": {"type": "line", "color": "#1ee8e8", "strokeWidth": 2, "interpolate": "monotone"}},
{"data": {"name": "bb_m"}, "mark": {"type": "line", "color": "#f020f0", "strokeWidth": 2, "interpolate": "monotone"}},
{"data": {"values": [{"x": 396.34, "y": 202, "y2": 4}]}, "mark": {"type": "rule", "color": "#1a3ae6", "strokeWidth": 3, "strokeDash": [9, 6]}, "encoding": {"y2": {"field": "y2"}}},
{"data": {"values": [{"x": 395.94, "x2": 397.05, "y": 148}]}, "mark": {"type": "rule", "color": "#ee2222", "strokeWidth": 2.5}, "encoding": {"x2": {"field": "x2"}}},
{"data": {"values": [{"x": 397.05, "y": 148}]}, "mark": {"type": "point", "shape": "triangle-right", "filled": true, "size": 110, "color": "#ee2222", "opacity": 1}},
{"data": {"values": [{"x": 397.28, "y": 147, "t": "shifted"}]}, "mark": {"type": "text", "align": "left", "baseline": "middle", "fontSize": 17, "fontWeight": "bold", "color": "#e82a2a"}, "encoding": {"text": {"field": "t", "type": "nominal"}}},
{"data": {"values": [{"x": 402.6, "x2": 403.54, "y": 151.5}]}, "mark": {"type": "rule", "color": "#111111", "strokeWidth": 2.2}, "encoding": {"x2": {"field": "x2"}}},
{"data": {"values": [{"x": 403.62, "y": 151.5, "t": "NTAK-N1s"}]}, "mark": {"type": "text", "align": "left", "baseline": "middle", "fontSize": 18, "color": "#111111"}, "encoding": {"text": {"field": "t", "type": "nominal"}}}
]
},
{"data": {"values": [{"x": 394}, {"x": 406}]}, "mark": {"type": "point", "opacity": 0},
 "encoding": {"x": {"field": "x", "type": "quantitative", "scale": {"domain": [394, 406], "nice": false, "zero": false},
 "axis": {"orient": "bottom", "values": [395, 397, 399, 401, 403, 405], "labels": false, "title": null, "domain": false, "grid": false, "tickSize": -4, "tickColor": "#444", "tickWidth": 1.2}}}}
],
"resolve": {"scale": {"x": "independent"}, "axis": {"x": "independent"}}
}
],
"config": {
"view": {"stroke": "#4d4d4d", "strokeWidth": 1.3},
"font": "Liberation Sans",
"axis": {"labelFont": "Liberation Sans", "titleFont": "Liberation Sans"},
"text": {"font": "Liberation Sans"}
}
}
